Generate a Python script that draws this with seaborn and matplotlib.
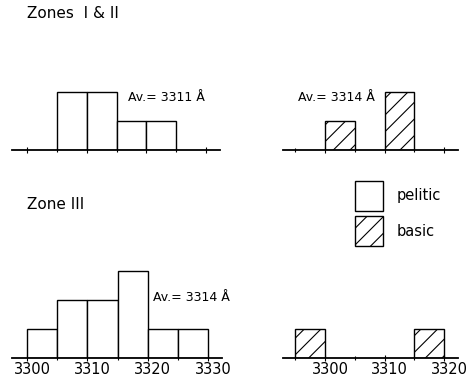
import matplotlib
matplotlib.use("Agg")
import matplotlib.pyplot as plt
import matplotlib.transforms as mtransforms
import seaborn as sns
import numpy as np
import pandas as pd
from matplotlib.patches import Patch

sns.set_theme(style="white")
plt.rcParams['font.family'] = ['DejaVu Sans']
plt.rcParams['hatch.linewidth'] = 0.8
plt.rcParams['text.color'] = 'black'
plt.rcParams['hatch.color'] = 'black'

# ---- data (bin left edges, width 5 Å, counts) ----
bin_width = 5
zone12_pelitic_edges = [3305, 3310, 3315, 3320]
zone12_pelitic_counts = [2, 2, 1, 1]
zone12_basic_edges = [3300, 3310]
zone12_basic_counts = [1, 2]
zone3_pelitic_edges = [3300, 3305, 3310, 3315, 3320, 3325]
zone3_pelitic_counts = [1, 2, 2, 3, 1, 1]
zone3_basic_edges = [3295, 3315]
zone3_basic_counts = [1, 1]

left_ticks = [3300, 3310, 3320, 3330]
right_ticks = [3300, 3310, 3320]
zone_titles = ["Zones  I & II", "Zone III"]
av_labels = ["Av.= 3311 Å", "Av.= 3314 Å", "Av.= 3314 Å"]

W, H = 470, 381
fig = plt.figure(figsize=(W / 100, H / 100), dpi=100)

def px_axes(x0, x1, base, height):
    return fig.add_axes([x0 / W, (H - base) / H, (x1 - x0) / W, height / H])

label_shift = mtransforms.ScaledTranslation(5 / 100, 0, fig.dpi_scale_trans)
HATCH = "//"

def draw(ax, edges, counts, hatched, xlim, ticks, show_labels):
    df = pd.DataFrame({"center": [e + bin_width / 2 for e in edges],
                       "count": counts})
    bins = [float(b) for b in np.arange(min(edges), max(edges) + bin_width + 1, bin_width)]
    sns.histplot(data=df, x="center", weights="count", bins=bins, ax=ax,
                 color="white", edgecolor="black", linewidth=1.0, alpha=1)
    for p in ax.patches:
        if p.get_height() == 0:
            p.set_visible(False)
        elif hatched:
            p.set_hatch(HATCH)
    for s in ["top", "right", "left"]:
        ax.spines[s].set_visible(False)
    ax.spines["bottom"].set_color("black")
    ax.spines["bottom"].set_linewidth(1.3)
    ax.set_yticks([])
    ax.set_ylabel("")
    ax.set_xlabel("")
    ax.set_xticks(ticks)
    ax.set_xticks(np.arange(ticks[0] - 5, ticks[-1] + 5, 5), minor=True)
    ax.tick_params(axis="x", which="both", direction="inout", length=4,
                   width=0.8, color="black", bottom=True, pad=1,
                   labelsize=10.5, labelcolor="black")
    ax.tick_params(axis="x", which="minor", length=3)
    if not show_labels:
        ax.set_xticklabels([])
    else:
        for lab in ax.get_xticklabels():
            lab.set_transform(lab.get_transform() + label_shift)
    ax.set_xlim(*xlim)
    ax.set_ylim(0, 3.45)
    ax.set_facecolor("none")

lx = (3297.5, 3332.3)
rx = (3292.9, 3322.35)

ax_tl = px_axes(12, 220, 150, 100)
draw(ax_tl, zone12_pelitic_edges, zone12_pelitic_counts, False, lx, left_ticks, False)
ax_tr = px_axes(283, 458, 150, 100)
draw(ax_tr, zone12_basic_edges, zone12_basic_counts, True, rx, right_ticks, False)
ax_bl = px_axes(12, 222, 358, 100)
draw(ax_bl, zone3_pelitic_edges, zone3_pelitic_counts, False, lx, left_ticks, True)
ax_br = px_axes(283, 458, 358, 100)
draw(ax_br, zone3_basic_edges, zone3_basic_counts, True, rx, right_ticks, True)

ax_tl.text(3316.9, 1.8, av_labels[0], fontsize=9, va="center", ha="left", color="black")
ax_tr.text(3295.5, 1.8, av_labels[1], fontsize=9, va="center", ha="left", color="black")
ax_bl.text(3320.9, 2.1, av_labels[2], fontsize=9, va="center", ha="left", color="black")

fig.text(27 / W, 1 - 14 / H, zone_titles[0], fontsize=11, va="center", ha="left", color="black")
fig.text(27 / W, 1 - 204 / H, zone_titles[1], fontsize=11, va="center", ha="left", color="black")

handles = [Patch(facecolor="white", edgecolor="black", linewidth=1.0, label="pelitic"),
           Patch(facecolor="white", edgecolor="black", linewidth=1.0, hatch=HATCH, label="basic")]
fig.legend(handles=handles, loc="upper left", bbox_to_anchor=(355 / W, 1 - 181 / H),
           frameon=False, fontsize=10.5, handlelength=1.95, handleheight=2.75,
           labelspacing=0.4, handletextpad=0.9, borderpad=0, borderaxespad=0,
           labelcolor="black")

fig.savefig("out.png", dpi=100, facecolor="white")
